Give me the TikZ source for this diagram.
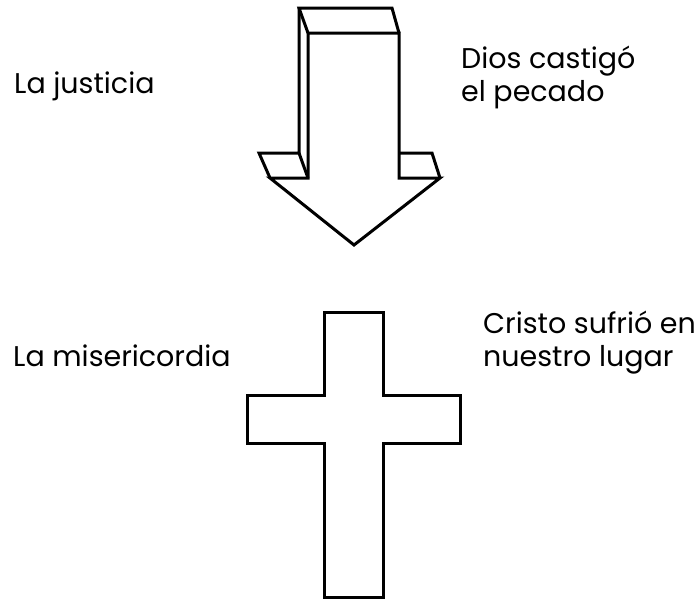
\documentclass[tikz,border=0pt]{standalone}
\usepackage{fontspec}
\setmainfont{Poppins}
\begin{document}
\begin{tikzpicture}[x=1pt,y=-1pt,
  shape line/.style={line width=3pt,line join=miter,black},
  lbl/.style={anchor=base west,inner sep=0pt,align=left,font=\fontsize{28.5}{33}\selectfont}]
\useasboundingbox (0,0) rectangle (698,600);
% arrow
\draw[shape line] (308,33) -- (399,33) -- (399,178) -- (440,178) -- (354,245) -- (270,178) -- (308,178) -- cycle;
\draw[shape line] (308,33) -- (299,8) -- (392,8) -- (399,33);
\draw[shape line] (299,8) -- (299,153) -- (259,153) -- (270,178);
\draw[shape line] (299,153) -- (308,178);
\draw[shape line] (399,153) -- (432,153) -- (440,178);
% cross
\draw[shape line] (324,312) -- (383,312) -- (383,395) -- (460,395) -- (460,443) -- (383,443) -- (383,597) -- (324,597) -- (324,443) -- (247,443) -- (247,395) -- (324,395) -- cycle;
% texts
\node[lbl] (just) at (14,93) {La justicia};
\node[lbl] (dios) at (461,101.5) {Dios castigó\\el pecado};
\node[lbl] (mise) at (13,366) {La misericordia};
\node[lbl] (cris) at (483,366.5) {Cristo sufrió en\\nuestro lugar};
\end{tikzpicture}
\end{document}
